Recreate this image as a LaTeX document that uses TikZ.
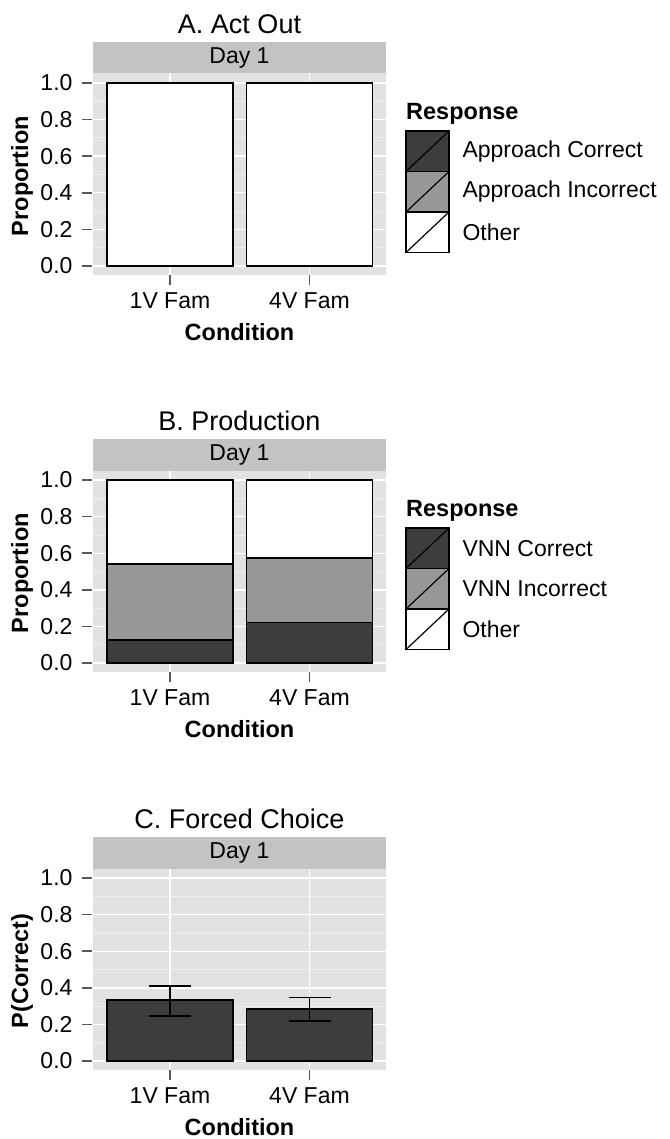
\documentclass[tikz,border=0pt]{standalone}
\usepackage{fontspec}
\setmainfont{Liberation Sans}
\usetikzlibrary{positioning}
\definecolor{panelbg}{HTML}{E2E2E2}
\definecolor{stripbg}{HTML}{C3C3C3}
\definecolor{minorgrid}{HTML}{EFEFEF}
\definecolor{darkbar}{HTML}{3D3D3D}
\definecolor{midbar}{HTML}{979797}
\definecolor{tickgrey}{HTML}{5A5A5A}

\begin{document}
\begin{tikzpicture}[x=1pt, y=-1pt,
    axtext/.style={font=\fontsize{23}{27}\selectfont},
    axtitle/.style={font=\bfseries\fontsize{23.5}{27}\selectfont, inner sep=0pt},
    plottitle/.style={font=\fontsize{27}{31}\selectfont},
    barbox/.style={draw=black, line width=1.5pt},
    keybox/.style={draw=black, line width=1.2pt},
    major/.style={white, line width=1.4pt},
    minor/.style={minorgrid, line width=0.8pt},
    tickmark/.style={tickgrey, line width=1.5pt}]
  \useasboundingbox (0,0) rectangle (669,1139);
  \def\yA{266}
  \def\yB{663}
  \def\yC{1061}
  \def\s{183}
  % Panels
  \foreach \yz/\nm/\ttl/\ylab in {\yA/A/A. Act Out/Proportion, \yB/B/B. Production/Proportion, \yC/C/C. Forced Choice/P(Correct)}{
    \fill[panelbg] (93,\yz+9) rectangle (386,\yz-\s-9.5);
    \foreach \v in {0.1,0.3,0.5,0.7,0.9}
      \draw[minor] (93,\yz-\s*\v) -- (386,\yz-\s*\v);
    \foreach \v[count=\i] in {0.0,0.2,0.4,0.6,0.8,1.0}{
      \draw[major] (93,\yz-\s*\v) -- (386,\yz-\s*\v);
      \draw[tickmark] (82,\yz-\s*\v) -- (92,\yz-\s*\v);
      \node[axtext, anchor=east] (ylab\nm\i) at (76,\yz-\s*\v) {\v};
    }
    \foreach \cx/\xl[count=\i] in {170/1V Fam, 309.5/4V Fam}{
      \draw[major] (\cx,\yz+9) -- (\cx,\yz-\s-9.5);
      \draw[tickmark] (\cx,\yz+9) -- (\cx,\yz+19);
      \node[axtext] (xlab\nm\i) at (\cx,\yz+34.5) {\xl};
    }
    % Strip and titles
    \fill[stripbg] (93,\yz-224) rectangle (386,\yz-192.5);
    \node[axtext] (strip\nm) at (239.5,\yz-208) {Day 1};
    \node[plottitle] (title\nm) at (239.5,\yz-242) {\ttl};
    \node[axtitle] (xtitle\nm) at (239.5,\yz+66.5) {Condition};
    \node[axtitle, rotate=90] (ytitle\nm) at (22,\yz-90) {\ylab};
  }

  % A: bars
  \foreach \cx in {170,309.5}
    \draw[barbox, fill=white] (\cx-63,\yA) rectangle (\cx+63,\yA-\s);

  % B: stacked bars
  \foreach \cx/\a/\b in {170/0.126/0.54, 309.5/0.22/0.574}{
    \draw[barbox, fill=white] (\cx-63,\yB-\s*\b) rectangle (\cx+63,\yB-\s);
    \draw[barbox, fill=midbar] (\cx-63,\yB-\s*\a) rectangle (\cx+63,\yB-\s*\b);
    \draw[barbox, fill=darkbar] (\cx-63,\yB) rectangle (\cx+63,\yB-\s*\a);
  }

  % C: bars with error bars
  \foreach \cx/\m/\lo/\hi in {170/0.333/0.247/0.41, 309.5/0.284/0.22/0.346}{
    \draw[barbox, fill=darkbar] (\cx-63,\yC) rectangle (\cx+63,\yC-\s*\m);
    \draw[barbox] (\cx-21,\yC-\s*\hi) -- (\cx+21,\yC-\s*\hi);
    \draw[barbox] (\cx-21,\yC-\s*\lo) -- (\cx+21,\yC-\s*\lo);
    \draw[barbox] (\cx,\yC-\s*\hi) -- (\cx,\yC-\s*\lo);
  }

  % Legends
  \foreach \yz/\nm/\la/\lb in {\yA/A/Approach Correct/Approach Incorrect, \yB/B/VNN Correct/VNN Incorrect}{
    \node[axtitle, anchor=west] (resp\nm) at (406,\yz-152.5) {Response};
    \foreach \col/\lab[count=\i] in {darkbar/\la, midbar/\lb, white/Other}{
      \draw[keybox, fill=\col] (406,\yz-135+40.5*\i-40.5) rectangle ++(43,40.5);
      \draw[keybox] (406,\yz-135+40.5*\i) -- ++(43,-40.5);
      \node[axtext, anchor=west] (key\nm\i) at (459,\yz-114.5+40.5*\i-40.5) {\lab};
    }
  }
\end{tikzpicture}
\end{document}
